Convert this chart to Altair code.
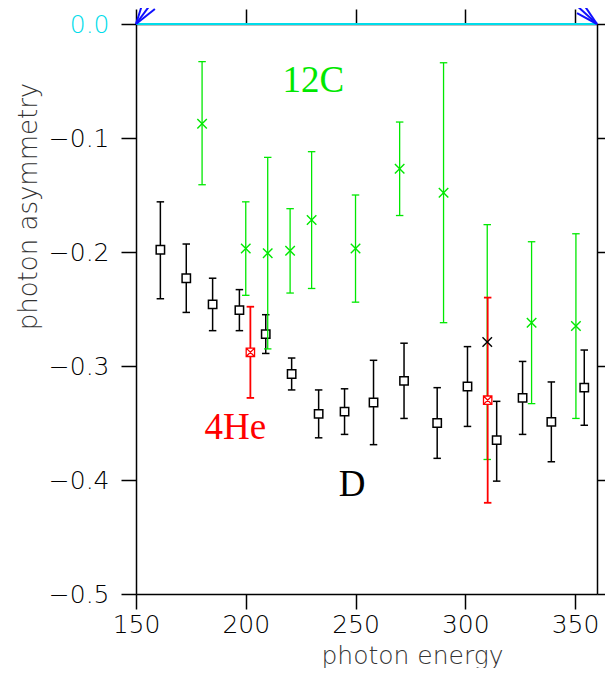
import altair as alt
import pandas as pd

# ---- data ----
D_energy = [161.1, 172.9, 184.9, 197.1, 209.1, 220.9, 233.2, 245.0, 258.2, 272.1, 287.2, 301.0, 314.3, 326.1, 339.2, 354.2]
D_asym = [-0.198, -0.223, -0.246, -0.251, -0.272, -0.307, -0.342, -0.340, -0.332, -0.313, -0.350, -0.318, -0.365, -0.328, -0.349, -0.319]
D_hi = [-0.156, -0.193, -0.223, -0.233, -0.255, -0.293, -0.321, -0.320, -0.295, -0.280, -0.319, -0.283, -0.331, -0.296, -0.314, -0.286]
D_lo = [-0.241, -0.253, -0.269, -0.269, -0.289, -0.321, -0.363, -0.360, -0.369, -0.346, -0.381, -0.353, -0.401, -0.360, -0.384, -0.352]

C_energy = [180.1, 200.0, 210.0, 220.2, 230.0, 250.0, 270.1, 290.1, 310.0, 330.2, 350.4]
C_asym = [-0.0875, -0.197, -0.201, -0.199, -0.172, -0.197, -0.127, -0.148, -0.279, -0.262, -0.265]
C_hi = [-0.033, -0.156, -0.117, -0.162, -0.112, -0.150, -0.086, -0.034, -0.176, -0.191, -0.184]
C_lo = [-0.141, -0.238, -0.285, -0.236, -0.232, -0.244, -0.168, -0.262, -0.382, -0.333, -0.346]

He_energy = [202.1, 310.2]
He_asym = [-0.288, -0.330]
He_hi = [-0.248, -0.240]
He_lo = [-0.328, -0.420]

LABEL_TEXT = ["12C", "4He", "D"]
LABEL_X = [230.8, 195.3, 248.5]
LABEL_Y = [-0.0596, -0.3640, -0.4140]

X_TICKS = [150, 200, 250, 300, 350]
Y_TICKS = [0.0, -0.1, -0.2, -0.3, -0.4, -0.5]

# arrow glyph strokes at the ends of the zero line (tip -> tail)
ARROW_X = [150, 150, 150, 360, 360, 360]
ARROW_Y = [0, 0, 0, 0, 0, 0]
ARROW_X2 = [153.6, 157.7, 158.6, 347.7, 354.1, 350.9]
ARROW_Y2 = [0.0220, 0.0200, 0.0132, 0.0215, 0.0167, 0.0096]

dD = pd.DataFrame({"energy": D_energy, "asym": D_asym, "hi": D_hi, "lo": D_lo})
dC = pd.DataFrame({"energy": C_energy, "asym": C_asym, "hi": C_hi, "lo": C_lo})
dH = pd.DataFrame({"energy": He_energy, "asym": He_asym, "hi": He_hi, "lo": He_lo})
dL = pd.DataFrame({"label": LABEL_TEXT, "x": LABEL_X, "y": LABEL_Y})
dA = pd.DataFrame({"x": ARROW_X, "y": ARROW_Y, "x2": ARROW_X2, "y2": ARROW_Y2})

FONT = "DejaVu Sans"
GREEN = "#00e800"
RED = "#ff0000"
CYAN = "#00dcea"
BLUE = "#1010ff"

xs = alt.Scale(domain=[150, 360], nice=False, zero=False)
ys = alt.Scale(domain=[-0.5, 0.0], nice=False, zero=False)

axis_bottom = alt.Axis(
    orient="bottom", values=X_TICKS, format="d", grid=False,
    tickSize=15, tickWidth=1.5, tickColor="black", domainColor="black", domainWidth=1.5,
    labelFont=FONT, labelFontSize=25, labelFontWeight=200, labelColor="black", labelPadding=3,
    labelFlush=False, labelOverlap=False, labelBound=False,
    title="photon energy", titleFont=FONT, titleFontSize=25, titleFontWeight=200, titleColor="#333333",
    titleX=276, titleY=69, titleAlign="center", titleBaseline="alphabetic",
)
axis_left = alt.Axis(
    orient="left", values=Y_TICKS, format=".1f", grid=False,
    tickSize=15, tickWidth=1.5, tickColor="black", domainColor="black", domainWidth=1.5,
    labelFont=FONT, labelFontSize=25, labelFontWeight=200, labelPadding=12,
    labelColor=alt.condition("datum.value == 0", alt.value(CYAN), alt.value("black")),
    labelFlush=False, labelOverlap=False, labelBound=False,
    title="photon asymmetry", titleFont=FONT, titleFontSize=26, titleFontWeight=200, titleColor="#333333",
    titleAngle=270, titleX=-108, titleY=182, titleAlign="center", titleBaseline="middle",
)
axis_top = alt.Axis(
    orient="top", values=X_TICKS, grid=False, labels=False, title=None,
    tickSize=15, tickWidth=1.5, tickColor="black", domainColor="black", domainWidth=1.5,
)
axis_right = alt.Axis(
    orient="right", values=Y_TICKS, grid=False, labels=False, title=None,
    tickSize=15, tickWidth=1.5, tickColor="black", domainColor="black", domainWidth=1.5,
)

CAP = "M-1,0L1,0"
XMARK = "M-1,-1L1,1M-1,1L1,-1"
BOXX = "M-1,-1L1,-1L1,1L-1,1ZM-1,-1L1,1M-1,1L1,-1"


def bars(df, color, width=1.5):
    r = alt.Chart(df).mark_rule(color=color, strokeWidth=width).encode(
        x=alt.X("energy:Q", scale=xs, axis=None),
        y=alt.Y("lo:Q", scale=ys, axis=None),
        y2="hi:Q",
    )
    c1 = alt.Chart(df).mark_point(shape=CAP, size=56, filled=False, color=color, strokeWidth=width, opacity=1).encode(
        x=alt.X("energy:Q", scale=xs, axis=None),
        y=alt.Y("hi:Q", scale=ys, axis=None),
    )
    c2 = alt.Chart(df).mark_point(shape=CAP, size=56, filled=False, color=color, strokeWidth=width, opacity=1).encode(
        x=alt.X("energy:Q", scale=xs, axis=None),
        y=alt.Y("lo:Q", scale=ys, axis=None),
    )
    return [r, c1, c2]


# D squares carry the main axes
d_sq = alt.Chart(dD).mark_square(size=70, fill="white", stroke="black", strokeWidth=1.5, opacity=1).encode(
    x=alt.X("energy:Q", scale=xs, axis=axis_bottom),
    y=alt.Y("asym:Q", scale=ys, axis=axis_left),
)

c_x = alt.Chart(dC).transform_filter("datum.energy != 310").mark_point(
    shape=XMARK, size=90, filled=False, color=GREEN, strokeWidth=1.4, opacity=1
).encode(
    x=alt.X("energy:Q", scale=xs, axis=None),
    y=alt.Y("asym:Q", scale=ys, axis=None),
)
c_x_black = alt.Chart(dC).transform_filter("datum.energy == 310").mark_point(
    shape=XMARK, size=90, filled=False, color="black", strokeWidth=1.4, opacity=1
).encode(
    x=alt.X("energy:Q", scale=xs, axis=None),
    y=alt.Y("asym:Q", scale=ys, axis=None),
)

he_m = alt.Chart(dH).mark_point(shape=BOXX, size=70, filled=True, fill="white", stroke=RED, strokeWidth=1.3, opacity=1).encode(
    x=alt.X("energy:Q", scale=xs, axis=None),
    y=alt.Y("asym:Q", scale=ys, axis=None),
)

# cyan zero line carries the top and right axes
zero = alt.Chart(pd.DataFrame({"k": [0]})).mark_rule(color=CYAN, strokeWidth=2).encode(
    x=alt.XDatum(150, scale=xs, axis=axis_top),
    x2=alt.X2Datum(360),
    y=alt.YDatum(0, scale=ys, axis=axis_right),
)

arrows = alt.Chart(dA).mark_rule(color=BLUE, strokeWidth=2).encode(
    x=alt.X("x:Q", scale=xs, axis=None),
    y=alt.Y("y:Q", scale=ys, axis=None),
    x2="x2:Q",
    y2="y2:Q",
)

labels = alt.Chart(dL).mark_text(font="Liberation Serif", fontSize=37, align="center", baseline="alphabetic").encode(
    x=alt.X("x:Q", scale=xs, axis=None),
    y=alt.Y("y:Q", scale=ys, axis=None),
    text="label:N",
    color=alt.Color("label:N", scale=alt.Scale(domain=LABEL_TEXT, range=[GREEN, RED, "black"]), legend=None),
)

layers = []
layers += bars(dD, "black", 1.5)
layers += [d_sq]
layers += bars(dC, GREEN, 1.3)
layers += [c_x]
layers += bars(dH, RED, 1.8)
layers += [he_m, c_x_black, zero, arrows, labels]

chart = alt.layer(*layers).resolve_axis(x="independent", y="independent").properties(
    width=461,
    height=570,
    autosize=alt.AutoSizeParams(type="none"),
    padding={"left": 128, "top": 16, "right": 8, "bottom": 74},
).configure_view(strokeWidth=0).configure(background="white")

chart.save("out.html", embed_options={"renderer": "svg", "actions": False})
